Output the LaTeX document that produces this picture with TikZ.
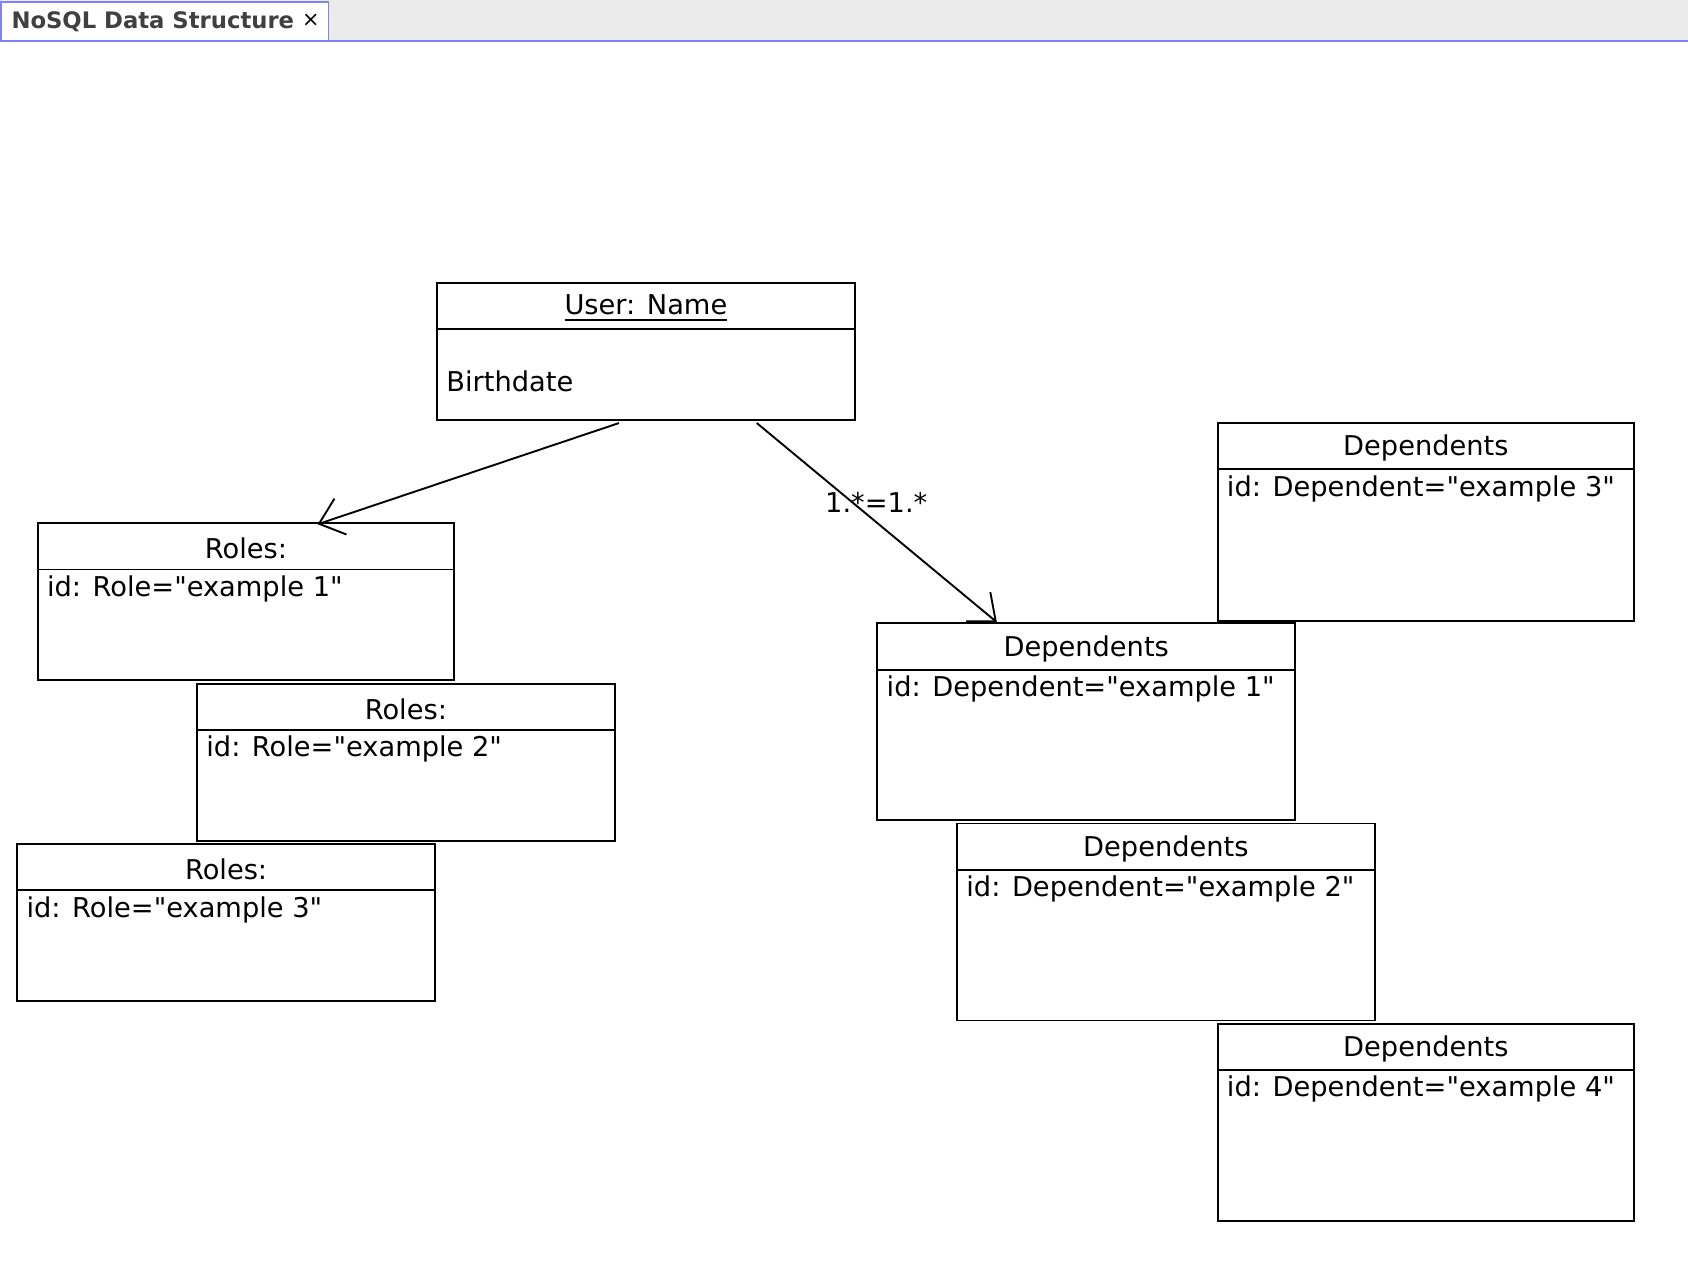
\documentclass[tikz,border=0pt]{standalone}
\usepackage{fontspec}
\setmainfont{DejaVu Sans}
\usetikzlibrary{arrows.meta}
\newcommand\qq{\textquotedbl}
\begin{document}
\begin{tikzpicture}[x=0.01cm,y=-0.01cm,
  ttl/.style={font=\fontsize{7.2}{9}\selectfont,anchor=center},
  txt/.style={font=\fontsize{7.2}{9}\selectfont,anchor=west,inner sep=0pt},
  arr/.style={line width=0.5pt,-{Straight Barb[length=6pt,width=10pt]}}]
\useasboundingbox (0,0) rectangle (1568,1180);
\fill[white] (0,0) rectangle (1568,1180);
\fill[black!8] (0,0) rectangle (1568,38);
\draw[blue!50,line width=0.6pt] (0,38) -- (1568,38);
\fill[white,draw=blue!50] (1,2) rectangle (305,38);
\node[txt,font=\fontsize{6}{8}\selectfont\bfseries,text=black!75] (tab) at (10,20) {NoSQL Data Structure};
\node[txt,font=\fontsize{5.5}{7}\selectfont] (tabx) at (280,19) {×};
\newcommand\umlbox[8]{%
  \draw[line width=0.5pt] (#2,#3) rectangle (#4,#5);
  \coordinate (#1) at (#2,#3);
  \draw[line width=0.5pt] (#2,#6) -- (#4,#6);
  \node[ttl] (#1t) at ({(#2+#4)/2},{(#3+#6)/2+2}) {#7};
  \node[txt] (#1b) at (#2+8,#6+18) {#8};}
\umlbox{user}{406}{263}{794}{390}{306}{\underline{User: Name}}{}
\node[txt] (birth) at (414,354) {Birthdate};
\umlbox{r1}{35}{486}{422}{632}{529}{Roles:}{id: Role=\qq example 1\qq}
\umlbox{r2}{183}{635}{571}{781}{678}{Roles:}{id: Role=\qq example 2\qq}
\umlbox{r3}{16}{784}{404}{930}{827}{Roles:}{id: Role=\qq example 3\qq}
\umlbox{d3}{1131}{393}{1518}{577}{436}{Dependents}{id: Dependent=\qq example 3\qq}
\umlbox{d1}{815}{579}{1203}{762}{622}{Dependents}{id: Dependent=\qq example 1\qq}
\umlbox{d2}{889}{765}{1277}{948}{808}{Dependents}{id: Dependent=\qq example 2\qq}
\umlbox{d4}{1131}{951}{1518}{1134}{994}{Dependents}{id: Dependent=\qq example 4\qq}
\coordinate (a1s) at (575,393); \coordinate (a1e) at (295,487);
\coordinate (a2s) at (703,393); \coordinate (a2e) at (926,578);
\draw[arr] (a1s) -- (a1e);
\draw[arr] (a2s) -- (a2e);
\node[ttl] (lbl) at (814,467) {1.*=1.*};
\end{tikzpicture}
\end{document}
